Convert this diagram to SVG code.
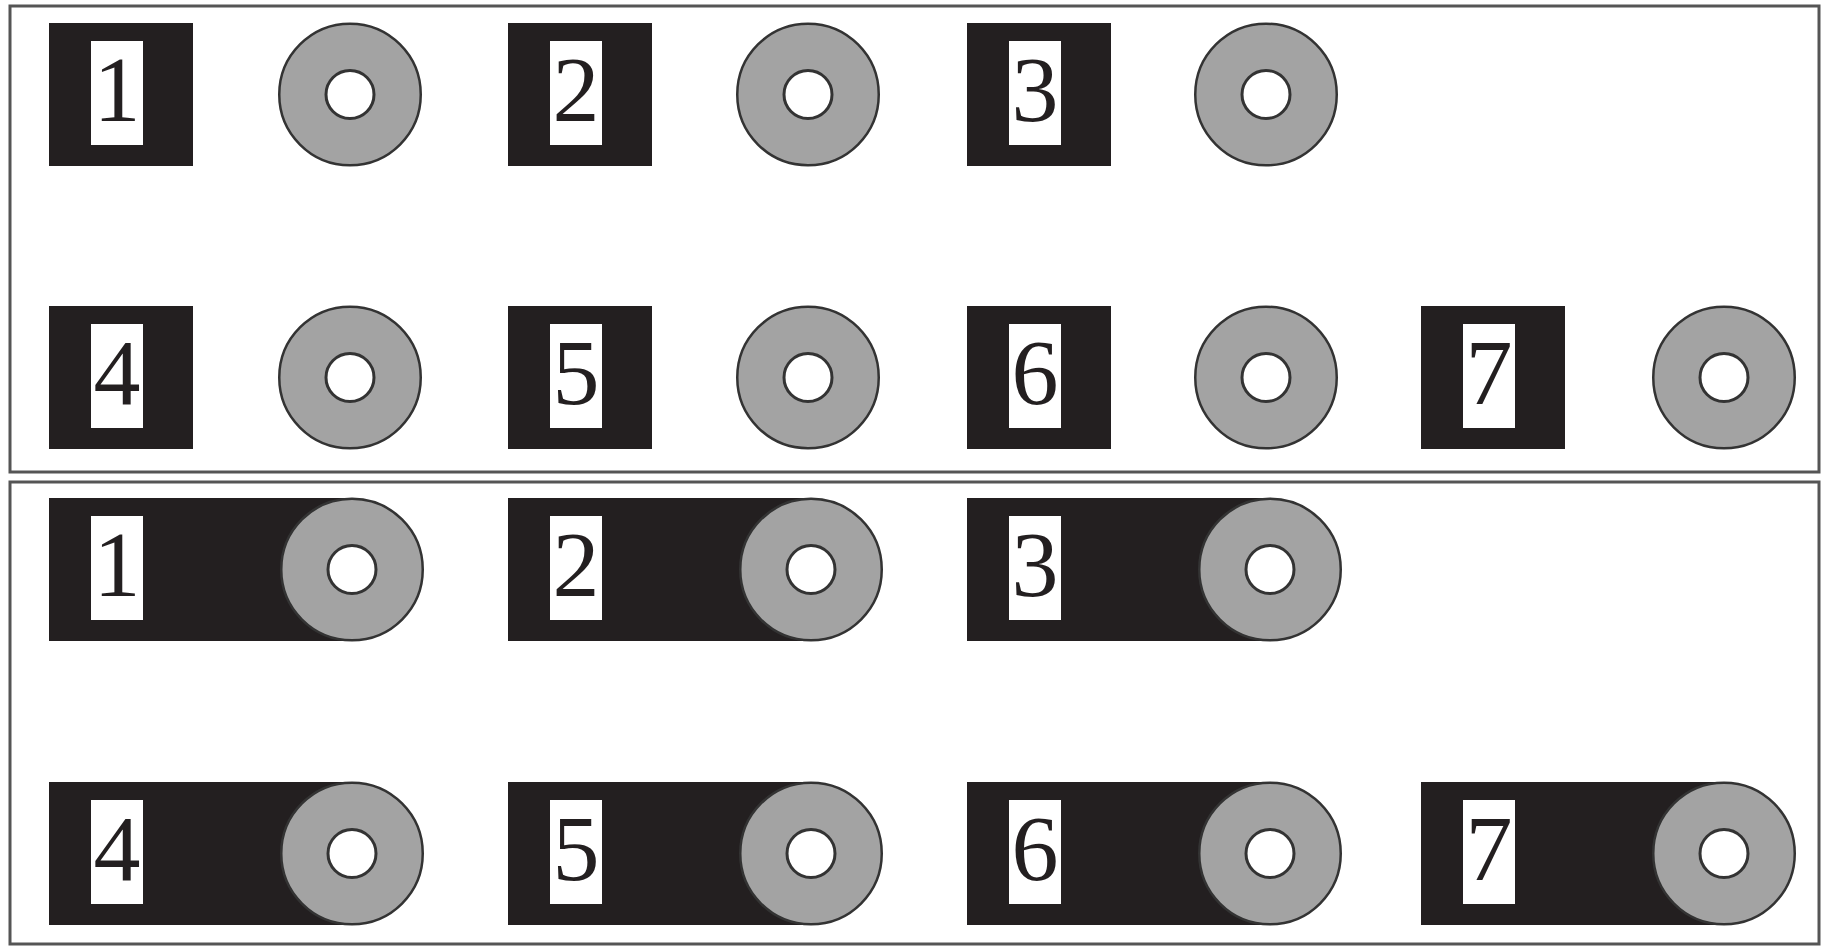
<svg xmlns="http://www.w3.org/2000/svg" width="1831" height="948" viewBox="0 0 1831 948">
<style>
.frame{fill:none;stroke:#555;stroke-width:3}
.blk{fill:#231f20}
.win{fill:#fff}
.ring{fill:#a3a3a3;stroke:#333;stroke-width:2.5}
.hole{fill:#fff;stroke:#333;stroke-width:3}
.num{font-family:"Liberation Serif","Times New Roman",serif;font-size:94px;text-anchor:middle;fill:#231f20}
</style>
<rect id="frame-top" class="frame" x="10" y="6" width="1809" height="466"/>
<rect id="frame-bottom" class="frame" x="10" y="482" width="1809" height="462"/>
<g id="connectors"></g>
<g id="top-1"><rect class="blk" x="49" y="23" width="144" height="143"/><rect class="win" x="91" y="41" width="52" height="104"/><text class="num" x="117" y="121">1</text><path class="ring" d="M279.25 94.5a70.75 70.75 0 0 1 70.75-70.75a70.75 70.75 0 0 1 70.75 70.75a70.75 70.75 0 0 1-70.75 70.75a70.75 70.75 0 0 1-70.75-70.75z"/><circle class="hole" cx="350" cy="94.5" r="24"/></g>
<g id="top-2"><rect class="blk" x="508" y="23" width="144" height="143"/><rect class="win" x="550" y="41" width="52" height="104"/><text class="num" x="576" y="121">2</text><circle class="ring" cx="808" cy="94.5" r="70.75"/><circle class="hole" cx="808" cy="94.5" r="24"/></g>
<g id="top-3"><rect class="blk" x="967" y="23" width="144" height="143"/><rect class="win" x="1009" y="41" width="52" height="104"/><text class="num" x="1035" y="121">3</text><circle class="ring" cx="1266" cy="94.5" r="70.75"/><circle class="hole" cx="1266" cy="94.5" r="24"/></g>
<g id="top-4"><rect class="blk" x="49" y="306" width="144" height="143"/><rect class="win" x="91" y="324" width="52" height="104"/><text class="num" x="117" y="404">4</text><circle class="ring" cx="350" cy="377.5" r="70.75"/><circle class="hole" cx="350" cy="377.5" r="24"/></g>
<g id="top-5"><rect class="blk" x="508" y="306" width="144" height="143"/><rect class="win" x="550" y="324" width="52" height="104"/><text class="num" x="576" y="404">5</text><circle class="ring" cx="808" cy="377.5" r="70.75"/><circle class="hole" cx="808" cy="377.5" r="24"/></g>
<g id="top-6"><rect class="blk" x="967" y="306" width="144" height="143"/><rect class="win" x="1009" y="324" width="52" height="104"/><text class="num" x="1035" y="404">6</text><circle class="ring" cx="1266" cy="377.5" r="70.75"/><circle class="hole" cx="1266" cy="377.5" r="24"/></g>
<g id="top-7"><rect class="blk" x="1421" y="306" width="144" height="143"/><rect class="win" x="1463" y="324" width="52" height="104"/><text class="num" x="1489" y="404">7</text><circle class="ring" cx="1724" cy="377.5" r="70.75"/><circle class="hole" cx="1724" cy="377.5" r="24"/></g>
<g id="bottom-1"><rect class="blk" x="49" y="498" width="303" height="143"/><circle class="blk" cx="352" cy="569.5" r="71"/><rect class="win" x="91" y="516" width="52" height="104"/><text class="num" x="117" y="596">1</text><circle class="ring" cx="352" cy="569.5" r="70.75"/><circle class="hole" cx="352" cy="569.5" r="24"/></g>
<g id="bottom-2"><rect class="blk" x="508" y="498" width="303" height="143"/><circle class="blk" cx="811" cy="569.5" r="71"/><rect class="win" x="550" y="516" width="52" height="104"/><text class="num" x="576" y="596">2</text><circle class="ring" cx="811" cy="569.5" r="70.75"/><circle class="hole" cx="811" cy="569.5" r="24"/></g>
<g id="bottom-3"><rect class="blk" x="967" y="498" width="303" height="143"/><circle class="blk" cx="1270" cy="569.5" r="71"/><rect class="win" x="1009" y="516" width="52" height="104"/><text class="num" x="1035" y="596">3</text><circle class="ring" cx="1270" cy="569.5" r="70.75"/><circle class="hole" cx="1270" cy="569.5" r="24"/></g>
<g id="bottom-4"><rect class="blk" x="49" y="782" width="303" height="143"/><circle class="blk" cx="352" cy="853.5" r="71"/><rect class="win" x="91" y="800" width="52" height="104"/><text class="num" x="117" y="880">4</text><circle class="ring" cx="352" cy="853.5" r="70.75"/><circle class="hole" cx="352" cy="853.5" r="24"/></g>
<g id="bottom-5"><rect class="blk" x="508" y="782" width="303" height="143"/><circle class="blk" cx="811" cy="853.5" r="71"/><rect class="win" x="550" y="800" width="52" height="104"/><text class="num" x="576" y="880">5</text><circle class="ring" cx="811" cy="853.5" r="70.75"/><circle class="hole" cx="811" cy="853.5" r="24"/></g>
<g id="bottom-6"><rect class="blk" x="967" y="782" width="303" height="143"/><circle class="blk" cx="1270" cy="853.5" r="71"/><rect class="win" x="1009" y="800" width="52" height="104"/><text class="num" x="1035" y="880">6</text><circle class="ring" cx="1270" cy="853.5" r="70.75"/><circle class="hole" cx="1270" cy="853.5" r="24"/></g>
<g id="bottom-7"><rect class="blk" x="1421" y="782" width="303" height="143"/><circle class="blk" cx="1724" cy="853.5" r="71"/><rect class="win" x="1463" y="800" width="52" height="104"/><text class="num" x="1489" y="880">7</text><circle class="ring" cx="1724" cy="853.5" r="70.75"/><circle class="hole" cx="1724" cy="853.5" r="24"/></g>
</svg>
